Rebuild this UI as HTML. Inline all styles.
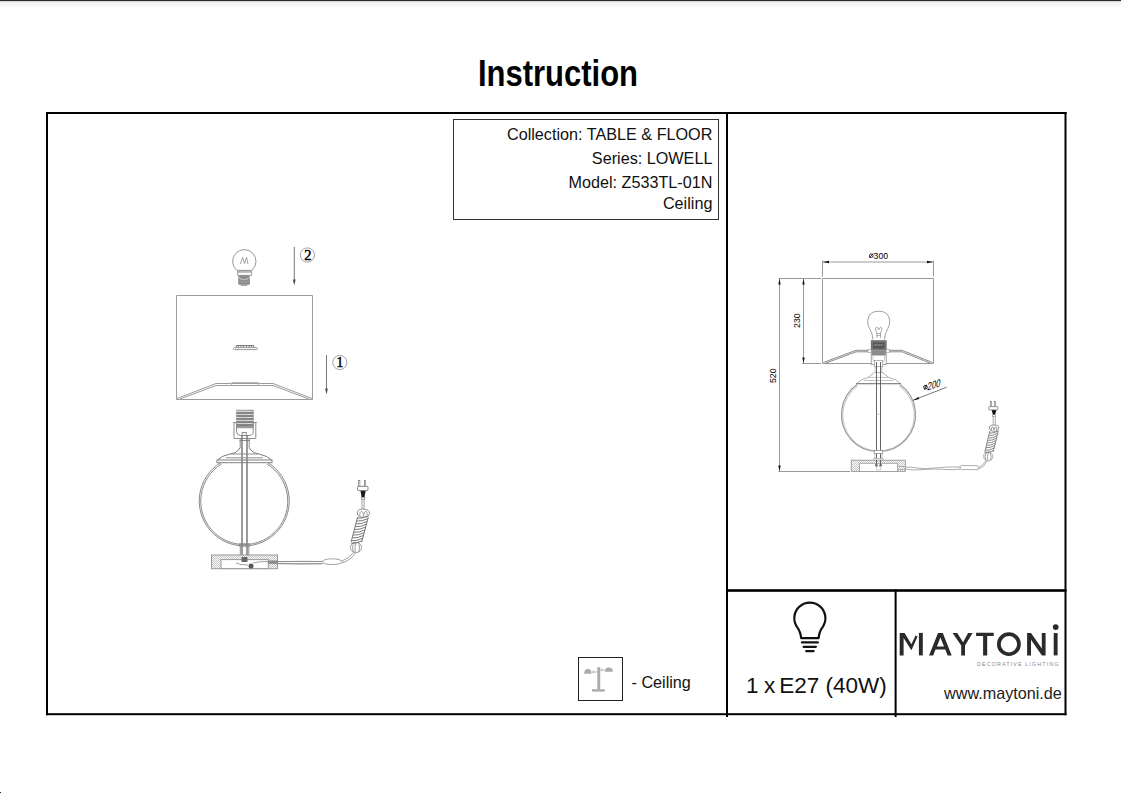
<!DOCTYPE html>
<html><head><meta charset="utf-8">
<style>
*{margin:0;padding:0;box-sizing:border-box}
html,body{width:1121px;height:793px;overflow:hidden;background:#fff}
body{position:relative;font-family:"Liberation Sans",sans-serif;color:#111}
.a{position:absolute}
#topsh{left:0;top:0;width:1121px;height:8px;background:linear-gradient(#2a2a2a 0,#2a2a2a 1px,#d6d6d6 1px,#d6d6d6 2px,#efefef 2px,#f0f0f0 3px,#f3f3f3 4px,#f6f6f6 5px,#f9f9f9 6px,#fcfcfc 7px,#fff 8px)}
#title{left:0;top:51.6px;width:1115px;text-align:center;font-weight:bold;font-size:36px;line-height:44px;color:#000}
#title span{display:inline-block;transform:scaleX(.86)}
.ln{position:absolute;background:#000}
#info{left:453px;top:119px;width:266px;height:101px;border:1px solid #333}
#info div{position:absolute;right:5.6px;font-size:16.2px;line-height:18px;white-space:nowrap;color:#111}
svg{position:absolute;left:0;top:0}
</style></head><body>
<div id="topsh" class="a"></div>
<div id="title" class="a"><span>Instruction</span></div>

<!-- main frame -->
<svg width="1121" height="793" style="position:absolute;left:0;top:0">
<g fill="#000">
<rect x="46" y="112" width="1020.5" height="2"/>
<rect x="46" y="713.2" width="1020.5" height="2"/>
<rect x="46" y="112" width="2" height="603.2"/>
<rect x="1064.5" y="112" width="2" height="603.2"/>
<rect x="726" y="112" width="2" height="605"/>
<rect x="726" y="589.2" width="340.5" height="2.6"/>
<rect x="894.6" y="589.5" width="2" height="127.5"/>
</g>
</svg>

<div id="info" class="a">
<div style="top:5px">Collection: TABLE &amp; FLOOR</div>
<div style="top:29px">Series: LOWELL</div>
<div style="top:53px">Model: Z533TL-01N</div>
<div style="top:74px">Ceiling</div>
</div>

<svg width="1121" height="793" viewBox="0 0 1121 793" style="position:absolute;left:0;top:0">
<defs>
<pattern id="hx" width="2" height="2" patternUnits="userSpaceOnUse"><rect width="2" height="2" fill="#fff"/><rect width="1" height="1" fill="#c2c2c2"/><rect x="1" y="1" width="1" height="1" fill="#c2c2c2"/></pattern>
</defs>
<g fill="none" stroke="#9c9c9c" stroke-width="1">
<!-- bulb -->
<path d="M236.8,270.3 A11.7,11.7 0 1 1 251.8,270.3" fill="none" stroke="#999" stroke-width="1"/>
<path d="M240.4,264 L242.6,257.3 L244.6,263.5 L246.6,257.3 L247.9,264" fill="none" stroke="#999" stroke-width=".9"/>
<rect x="237.6" y="270.3" width="14" height="5" fill="#fff" stroke="#999" stroke-width=".9"/>
<rect x="237.8" y="270.5" width="13.6" height="1.6" fill="#c8c8c8"/>
</g>
<rect x="238.2" y="275.3" width="11.7" height="9.4" rx="1.5" fill="#8a8a8a"/>
<path d="M238.4,277.5 Q244,282 249.7,277.5" stroke="#c0c0c0" stroke-width="1.2" fill="none"/>
<path d="M238.4,281.5 Q244,283 249.7,281.5" stroke="#aaa" stroke-width=".8" fill="none"/>
<path d="M240.9,284.6 H247.2 V285.9 H240.9 Z" fill="#999"/>
<!-- arrow 2 -->
<line x1="294.3" y1="247" x2="294.3" y2="283" stroke="#555" stroke-width=".8"/>
<path d="M293,279.5 L294.3,285.5 L295.6,279.5 Z" fill="#444"/>
<circle cx="307.4" cy="255" r="7.1" fill="none" stroke="#999" stroke-width=".9"/>
<text x="307.9" y="259.7" font-family="Liberation Serif" font-size="14.5" text-anchor="middle" fill="#000" stroke="#000" stroke-width=".45">2</text>
<!-- arrow 1 -->
<line x1="326.5" y1="355" x2="326.5" y2="392" stroke="#555" stroke-width=".8"/>
<path d="M325.2,388.5 L326.5,394.5 L327.8,388.5 Z" fill="#444"/>
<circle cx="339.8" cy="362.5" r="7.1" fill="none" stroke="#999" stroke-width=".9"/>
<text x="339.8" y="367.2" font-family="Liberation Serif" font-size="14.5" text-anchor="middle" fill="#000" stroke="#000" stroke-width=".45">1</text>
<g fill="none" stroke="#9c9c9c" stroke-width="1">
<!-- shade -->
<path d="M176.5,295.5 H312.5 V399.5 H176.5 Z"/>
<path d="M177,398.5 L216,383.5 H273 L312,398.5"/>
<path d="M180,399 L216,385.5 H273 L309,399"/>
<path d="M231.5,385.5 V382.5 H258.5 V385.5" stroke="#bbb"/>
<!-- ring -->
<path d="M236.2,347.5 V345.5 H253.8 V347.5 M238.4,345.5 V347.5 M241,345.5 V347.5 M243.4,345.5 V347.5 M246.4,345.5 V347.5 M249.2,345.5 V347.5 M251.4,345.5 V347.5" stroke="#777"/>
<rect x="233.5" y="347.6" width="24" height="2" rx="1" stroke="#999"/>
</g>
<!-- lamp body -->
<rect x="236.2" y="409.7" width="17.5" height="18.5" rx=".8" fill="#9a9a9a"/>
<g fill="none" stroke-width="1">
<path d="M236.5,411.4 Q245,410.6 253.5,412 M236.5,414.4 Q245,413.6 253.5,415 M236.5,417.4 Q245,416.6 253.5,418 M236.5,420.4 Q245,419.6 253.5,421 M236.5,423.4 Q245,422.6 253.5,424" stroke="#e6e6e6"/>
<path d="M236.5,413 Q245,413.5 253.5,412.8 M236.5,416 Q245,416.5 253.5,415.8 M236.5,419 Q245,419.5 253.5,418.8 M236.5,422 Q245,422.5 253.5,421.8 M236.5,425 Q245,425.5 253.5,424.8" stroke="#5e5e5e" stroke-width=".8"/>
</g>
<g fill="none" stroke="#8c8c8c" stroke-width="1">
<path d="M233,422.5 H236.5 V431.5 Q236.5,435.5 240.5,435.5 H249 Q253.2,435.5 253.2,431.5 V422.5 H256.8"/>
<path d="M234,422.5 V438.5 H255.8 V422.5"/>
<rect x="242.2" y="432.5" width="4" height="3"/>
<path d="M240.2,438.5 V448 M249.2,438.5 V448 M239.5,440.5 H250"/>
<path d="M242,435 V555 M247,435 V555" stroke="#7c7c7c" stroke-width="1.5"/>
<path d="M240,448 L238.5,450 Q236,453.3 230,454 Q221,456 217.5,460 M249.3,448 L250.8,450 Q253.3,453.3 259,454 Q268,456 271.5,460" stroke="#777"/>
<path d="M226,457.8 H263"/>
<rect x="217" y="460" width="55" height="2.7" stroke="#808080"/>
<path d="M231,454 H258"/>
</g>
<!-- globe -->
<g fill="none" stroke="#7a7a7a" stroke-width=".9">
<path d="M220.5,462.7 A45,45 0 1 0 268,462.7"/>
<path d="M221.5,464 A43.5,43.5 0 1 0 267,464"/>
</g>
<g fill="none" stroke="#8c8c8c" stroke-width="1">
<rect x="239.5" y="543.8" width="10" height="2.2"/>
<path d="M240.3,546 V555 M248.8,546 V555"/>
</g>
<!-- base -->
<rect x="211.5" y="555" width="66" height="13.7" fill="url(#hx)" stroke="#999" stroke-width="1"/>
<rect x="221" y="559.6" width="47.3" height="9" fill="#fff" stroke="#999" stroke-width="1"/>
<rect x="268.3" y="560.5" width="9" height="3" fill="#888"/>
<path d="M241.5,557 H247.5 V562 H241.5 Z" fill="#666"/>
<circle cx="251" cy="566" r="2.5" fill="#555"/>
<path d="M236,563 Q240,565 248,565" fill="none" stroke="#888" stroke-width=".8"/>
<!-- cord -->
<g fill="none" stroke="#8a8a8a" stroke-width=".8">
<path d="M253,563 Q258,561.5 268,561.5 H322.5"/>
<path d="M268,563.6 H322.5"/>
<path d="M277.5,561.8 Q300,561 322.5,561.5"/>
<path d="M277.5,563.6 Q300,564.5 322.5,563.8"/>
<ellipse cx="332.2" cy="561.7" rx="9.8" ry="2.9" fill="#fff"/>
<path d="M342,561 Q350,558 354,552"/>
<path d="M342,563 Q351,560 355.5,553"/>
<!-- coil -->
<ellipse cx="356" cy="547.4" rx="5.6" ry="5.2"/>
<path d="M353.3,552 Q351.5,546.5 353.8,542.5 M358.8,552 Q360.8,546.5 358.3,542.5 M355.2,552 Q354.5,547 356,542.5" stroke="#888"/>
<path d="M357.6,517 L351,542.2 M368.3,517 L361.7,542.2" stroke="#555"/>
<path d="M357.6,518.3 Q363,518.6 368.3,515.9 M356.9,521.1 Q362.3,521.4 367.6,518.7 M356.2,523.9 Q361.6,524.2 366.9,521.5 M355.4,526.7 Q360.8,527 366.1,524.3 M354.7,529.5 Q360.1,529.8 365.4,527.1 M354,532.3 Q359.4,532.6 364.7,529.9 M353.3,535.1 Q358.7,535.4 364,532.7 M352.5,537.9 Q357.9,538.2 363.2,535.5 M351.8,540.7 Q357.2,541 362.5,538.3 M351.1,543.3 Q356.5,543.6 361.8,540.9" stroke="#555"/>
<path d="M357.5,514 Q356.5,509.1 362.5,509.1 Q369.8,509.1 369.5,513.5 Q369.2,517 363.5,517 Q357.8,517.5 357.5,514 Z" stroke="#777"/>
<path d="M359.8,516 Q359.5,511.3 362,511.5 Q363.3,512 363.6,515.5 M363.6,515.5 Q364,511 366.3,511.3 Q368,512 366.8,515.6" stroke="#888"/>
<path d="M362,509.1 V499 M364.1,509.1 V499"/>
</g>
<!-- plug -->
<path d="M360.4,490.5 H365.7 L364.4,497.5 H361.7 Z" fill="#1a1a1a"/>
<rect x="361.3" y="497.4" width="3.6" height="1.8" fill="#fff" stroke="#777" stroke-width=".6"/>
<rect x="357.6" y="486.3" width="10.4" height="4.3" rx="1" fill="#fff" stroke="#666" stroke-width=".8"/>
<rect x="358.5" y="480.4" width="1.4" height="6" fill="#fff" stroke="#666" stroke-width=".6"/>
<rect x="364.3" y="480.4" width="1.4" height="6" fill="#fff" stroke="#666" stroke-width=".6"/>
<!-- ceiling icon -->
<rect x="578.5" y="657.5" width="44" height="43" fill="#fff" stroke="#222" stroke-width="1"/>
<g fill="#ababab">
<rect x="597.3" y="667.2" width="2.9" height="22.5"/>
<rect x="592" y="689.2" width="12.8" height="2.4"/>
<path d="M584.1,673.8 Q584.1,669.1 587.8,669.1 Q591.5,669.1 591.5,673.8 Z"/>
<path d="M604.8,671.7 Q604.8,667.4 608.8,667.4 Q612.9,667.4 612.9,671.7 Z"/>
<rect x="591.5" y="671.6" width="5.8" height=".8"/>
<rect x="593.2" y="670.4" width=".8" height="3"/>
<rect x="600.2" y="669.6" width="4.6" height=".8"/>
<rect x="601.5" y="668.4" width=".8" height="3"/>
</g>
</svg>

<div class="a" style="left:631.5px;top:673px;font-size:16.2px;line-height:18px;color:#111;white-space:nowrap">- Ceiling</div>
<svg width="1121" height="793" viewBox="0 0 1121 793" style="position:absolute;left:0;top:0">
<defs>
<pattern id="hx2" width="2" height="2" patternUnits="userSpaceOnUse"><rect width="2" height="2" fill="#fff"/><rect width="1" height="1" fill="#c6c6c6"/><rect x="1" y="1" width="1" height="1" fill="#c6c6c6"/></pattern>
</defs>
<!-- dimension lines -->
<g fill="none" stroke="#9a9a9a" stroke-width="1">
<path d="M778.5,278.5 H821 M802,363.5 H821 M778.5,471.5 H850"/>
<path d="M779.5,279 V471 M803.5,279 V363"/>
<path d="M822.5,260.5 V276.5 M933.5,260.5 V276.5"/>
<path d="M823,262 H933"/>
</g>
<g fill="#111">
<path d="M822.8,262 L829,260.8 L829,263.2 Z"/>
<path d="M933.2,262 L927,260.8 L927,263.2 Z"/>
<path d="M779.5,278.8 L778.3,284.5 L780.7,284.5 Z"/>
<path d="M779.5,471.2 L778.3,465.5 L780.7,465.5 Z"/>
<path d="M803.5,278.8 L802.3,284.5 L804.7,284.5 Z"/>
<path d="M803.5,363.2 L802.3,357.5 L804.7,357.5 Z"/>
</g>
<g font-family="Liberation Sans" font-size="9.9" fill="#000">
<text transform="translate(873.6,258.8) scale(.88,1)">300</text>
<text transform="translate(800.4,327.9) rotate(-90) scale(.88,1)">230</text>
<text transform="translate(776.2,383) rotate(-90) scale(.88,1)">520</text>
<text transform="translate(927.1,390.4) rotate(-17) skewX(-24) scale(.8,1)" font-size="10.2">200</text>
</g>
<g fill="none" stroke="#222" stroke-width=".95">
<circle cx="871.3" cy="255.7" r="1.85"/><path d="M869.2,257.9 L873.4,253.5"/>
<g transform="translate(924.4,389.8) rotate(-16)"><circle cx="1.8" cy="-2.2" r="1.75"/><path d="M0,-0.2 L3.6,-4.2"/></g>
</g>
<!-- 200 leader -->
<path d="M913,400.3 L946.6,387.2" stroke="#555" stroke-width=".8" fill="none"/>
<path d="M912.8,400.4 L918.4,396.9 L919.3,399 Z" fill="#111"/>
<!-- shade -->
<g fill="none" stroke="#999" stroke-width="1">
<path d="M822.5,278.5 H933.5 V363.5 H822.5 Z"/>
<path d="M823.5,362.5 L856,350.3 H868 M889,350.3 H902 L932.5,362.5" stroke="#8a8a8a"/>
<path d="M826,363 L856,351.8 H868 M889,351.8 H902 L930,363" stroke="#8a8a8a"/>
</g>
<g stroke="#bbb" stroke-width=".7">
<path d="M830,360 l1.5,1.6 M834,358.6 l1.5,1.6 M838,357.1 l1.5,1.6 M842,355.6 l1.5,1.6 M846,354.1 l1.5,1.6 M850,352.6 l1.5,1.6 M854,351.1 l1.5,1.6 M905,351.2 l-1.5,1.6 M909,352.8 l-1.5,1.6 M913,354.4 l-1.5,1.6 M917,356 l-1.5,1.6 M921,357.6 l-1.5,1.6 M925,359.2 l-1.5,1.6"/>
</g>
<!-- bulb -->
<path d="M873,339.5 Q872.5,333 869.5,328.5 Q867.5,325 867.7,321.5 Q868,311.2 878.7,311.2 Q889.5,311.2 889.7,321.5 Q889.9,325 887.8,328.5 Q885,333 884.5,339.5" fill="none" stroke="#888" stroke-width=".8"/>
<path d="M877,338 V333 L875.5,330 Q875,327.5 877,327 L878.7,330 L880.4,327 Q882.4,327.5 881.9,330 L880.4,333 V338" fill="none" stroke="#888" stroke-width=".7"/>
<path d="M876.5,333.5 H881 M876.5,335.5 H881" stroke="#888" stroke-width=".6"/>
<!-- socket -->
<rect x="871.2" y="340.7" width="15" height="9.6" fill="#777" stroke="#555" stroke-width=".6"/>
<rect x="873" y="342.5" width="11.4" height="6" fill="#555"/>
<path d="M874,345 H883" stroke="#aaa" stroke-width=".8"/>
<rect x="871.2" y="350.3" width="15" height="14" fill="#fff" stroke="#888" stroke-width=".8"/>
<rect x="871.6" y="350.5" width="14.2" height="5" fill="#8a8a8a"/>
<rect x="868.1" y="349.6" width="3" height="3.1" fill="#fff" stroke="#999" stroke-width=".6"/>
<rect x="886.2" y="349.6" width="3" height="3.1" fill="#fff" stroke="#999" stroke-width=".6"/>
<path d="M873,356 V360 Q873,362 876,362 H881.5 Q884.5,362 884.5,360 V356" fill="none" stroke="#aaa" stroke-width=".6"/>
<!-- stem -->
<rect x="874.4" y="360.5" width="8.3" height="6.2" fill="#fff" stroke="#999" stroke-width=".7"/>
<path d="M875.2,366.7 V372 M881.8,366.7 V372" stroke="#aaa" stroke-width=".7"/>
<path d="M876.5,362 V462 M880.5,362 V462" stroke="#555" stroke-width=".9"/>
<!-- cap -->
<path d="M874.3,372.6 H882.9 L888.5,377.4 Q896,379 900.6,383.6 H856.4 Q861,379 868.2,377.4 Z" fill="#fff" stroke="#999" stroke-width=".8"/>
<path d="M864,380.5 H893 M868.2,377.4 H888.5" stroke="#aaa" stroke-width=".7"/>
<path d="M856,383.6 H901" stroke="#888" stroke-width="1.2"/>
<path d="M876.5,372 V384 M880.5,372 V384" stroke="#555" stroke-width=".9"/>
<!-- globe -->
<path d="M857,384.6 A37,37 0 1 0 900,384.6" fill="none" stroke="#999" stroke-width="1.2"/>
<path d="M858,385.8 A35.8,35.8 0 1 0 899,385.8" fill="none" stroke="#aaa" stroke-width=".7"/>
<path d="M878,414.3 h1" stroke="#777" stroke-width=".8"/>
<rect x="874.2" y="450.6" width="8.5" height="2.8" fill="#fff" stroke="#888" stroke-width=".7"/>
<path d="M874.7,453.4 V458.6 M882,453.4 V458.6" stroke="#aaa" stroke-width=".7"/>
<rect x="874" y="458.6" width="9" height="1.9" fill="#fff" stroke="#999" stroke-width=".6"/>
<!-- base -->
<rect x="851.3" y="460.2" width="54" height="11.2" fill="url(#hx2)" stroke="#999" stroke-width=".9"/>
<rect x="859.6" y="463.3" width="37.8" height="8.1" fill="#fff" stroke="#999" stroke-width=".8"/>
<path d="M876.5,460 V466 M880.5,460 V466" stroke="#555" stroke-width=".9"/>
<circle cx="876.3" cy="465.2" r="1.3" fill="#666"/><circle cx="880.7" cy="465.2" r="1.3" fill="#666"/>
<rect x="876.5" y="466.5" width="4" height="3.5" fill="#fff" stroke="#aaa" stroke-width=".5"/>
<path d="M897.4,466.5 H905.4 M897.4,469.5 H905.4" stroke="#999" stroke-width=".7"/>
<!-- cord -->
<g fill="none" stroke="#999" stroke-width=".8">
<path d="M905.4,467.3 Q910,466.5 915,467.8 Q925,469.5 935,468 Q948,466.5 960.2,467"/>
<path d="M905.4,469 Q912,470.5 920,469.8 Q935,468.5 945,469.5 Q952,470 960.2,469.2"/>
<rect x="960.2" y="465.6" width="18.2" height="4" rx="1.5" fill="#fff"/>
<path d="M978.4,467.5 Q983,466 985.6,461 M978.4,469.3 Q984.5,467 987.2,461"/>
<!-- coil -->
<ellipse cx="988.2" cy="456.4" rx="4.6" ry="4.5"/>
<path d="M985.8,460.5 Q984.3,456 986.3,452.5 M990.5,460.5 Q992.2,456 990,452.5 M987.7,460.7 Q987,456.5 988.4,452.5" stroke="#888"/>
<path d="M989.8,431 L984.8,452 M998.3,431 L993.2,452" stroke="#6a6a6a"/>
<path d="M989.8,433.1 Q994.0,433.4 998.3,430.9 M989.2,435.5 Q993.4,435.8 997.7,433.3 M988.5,438.0 Q992.8,438.3 997.0,435.8 M987.9,440.4 Q992.2,440.7 996.4,438.2 M987.3,442.9 Q991.5,443.1 995.8,440.6 M986.7,445.3 Q990.9,445.6 995.1,443.1 M986.0,447.7 Q990.3,448.0 994.5,445.5 M985.4,450.2 Q989.6,450.5 993.8,448.0 M984.8,452.6 Q989.0,452.9 993.2,450.4" stroke="#6a6a6a"/>
<path d="M989.5,428 Q989.2,425 993.8,425 Q998.9,425 998.7,428 Q998.5,431.3 994,431.3 Q989.8,431.5 989.5,428 Z" stroke="#777"/>
<path d="M991.3,430.3 Q991,426.8 992.8,427 Q993.8,427.5 994,430 M994,430 Q994.3,426.8 996,427 Q997.3,427.5 996.6,430.3" stroke="#888"/>
<path d="M993.2,425 V416 M995.3,425 V416"/>
</g>
<!-- plug -->
<path d="M991.6,409.8 H996.4 L995.1,414.9 H993 Z" fill="#111"/>
<rect x="992.6" y="414.8" width="2.8" height="1.4" fill="#fff" stroke="#777" stroke-width=".5"/>
<rect x="988.7" y="406.6" width="9.1" height="3.3" rx=".8" fill="#fff" stroke="#666" stroke-width=".7"/>
<rect x="990.2" y="401.4" width="1.1" height="5.2" fill="#fff" stroke="#555" stroke-width=".5"/>
<rect x="994.4" y="401.4" width="1.1" height="5.2" fill="#fff" stroke="#555" stroke-width=".5"/>
</svg>

<svg width="1121" height="793" viewBox="0 0 1121 793" style="position:absolute;left:0;top:0">
<!-- bulb icon -->
<path d="M801.2,638.2 Q800.6,631.5 796.6,626.3 A15.55,15.55 0 1 1 823.1,626.3 Q819.1,631.5 818.6,638.2 Z" fill="none" stroke="#111" stroke-width="2.2" stroke-linejoin="round"/>
<g stroke="#111" stroke-width="2.3" stroke-linecap="round">
<path d="M802,642.4 H817.8 M803.6,646.8 H815.9 M806.2,651.1 H813.6"/>
</g>
<!-- MAYTONI logo -->
<g fill="#2a2a2a">
<path d="M899.7,632.9 L904.6,632.9 L911.4,644.2 L915.5,635.5 L917.6,636.4 L911.4,650.3 L903.6,638 L903.6,655.4 L899.7,655.4 Z"/>
<rect x="918.9" y="632.9" width="3.9" height="22.5"/>
<path d="M938,632.9 H942.8 L951.7,655.4 H947.6 L945.3,649.6 H935.5 L933.2,655.4 H929 Z M936.9,646.6 H944 L940.4,637.4 Z"/>
<path d="M952.6,632.9 H957.2 L963.1,642.2 L968.1,632.9 H972.6 L965,645.6 V655.4 H961.2 V645.6 Z"/>
<path d="M976.1,632.7 H993.7 V636.1 H987.2 V655.4 H983.1 V636.1 H976.1 Z"/>
<path d="M1027.1,632.9 H1031 L1041.8,648.6 V632.9 H1045.6 V655.4 H1041.9 L1031,639.7 V655.4 H1027.1 Z"/>
<rect x="1053.7" y="633.1" width="3.9" height="22.3"/>
<circle cx="1055.7" cy="627.1" r="2.9"/>
</g>
<circle cx="1008.9" cy="644.2" r="10.05" fill="none" stroke="#2a2a2a" stroke-width="3.7"/>
<text x="976.9" y="666.2" font-family="Liberation Sans" font-size="5.4" fill="#8a8a8a" textLength="81.7" lengthAdjust="spacing">DECORATIVE LIGHTING</text>
</svg>
<div class="a" style="left:746px;top:674.2px;font-size:22.5px;line-height:24px;color:#111;white-space:nowrap">1<span style="margin-left:5.5px">x</span><span style="margin-left:4px">E27 (40W)</span></div>
<div class="a" style="left:944px;top:684px;font-size:16.2px;line-height:18px;color:#222;white-space:nowrap">www.maytoni.de</div>

<div class="a" style="left:0;top:792px;width:1px;height:1px;background:#222"></div>
</body></html>
